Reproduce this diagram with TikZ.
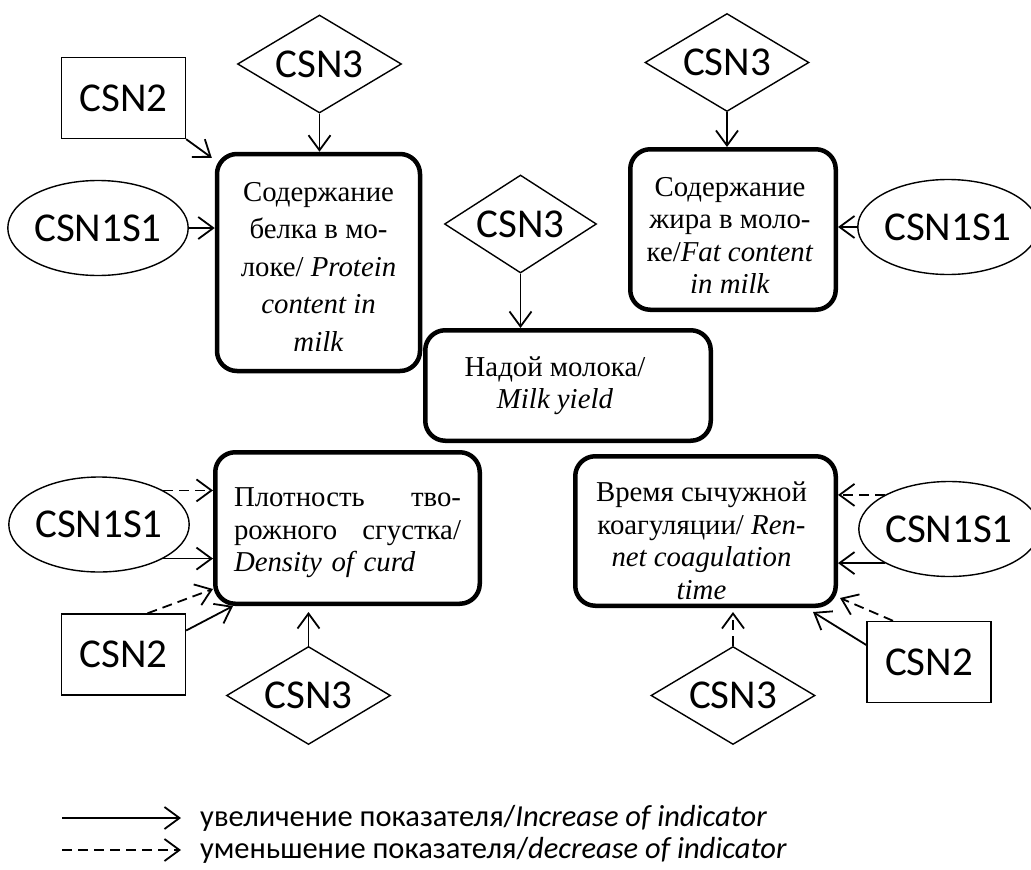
\documentclass[tikz,border=0pt]{standalone}
\usepackage{fontspec}
\setmainfont{Liberation Serif}
\newfontfamily\calibri{Carlito}
\usetikzlibrary{arrows.meta,shapes.geometric,calc}

\tikzset{
  gene/.style={draw, line width=1.4pt, inner sep=0pt, font=\calibri\fontsize{41}{48}\selectfont},
  csnrect/.style={gene, rectangle, minimum width=124pt, minimum height=81pt},
  csndia/.style={gene, diamond, aspect=1.67, minimum width=164pt, minimum height=98pt},
  csnell/.style={gene, ellipse, minimum width=171pt, minimum height=95pt},
  trait/.style={draw, line width=4.5pt, rounded corners=20pt, inner sep=0pt},
  traittext/.style={inner sep=0pt, align=center, font=\fontsize{28.8}{32.5}\selectfont},
  incr/.style={line width=1.8pt, -{Straight Barb[length=15pt,width=22pt,line width=1.8pt]}},
  decr/.style={incr, dash pattern=on 10pt off 6pt},
  legtext/.style={anchor=west, inner sep=0pt, font=\calibri\fontsize{30.5}{33}\selectfont}
}

\begin{document}
\begin{tikzpicture}[x=1pt, y=-1pt]
	%%%%% START %%%%%
	\useasboundingbox (0,0) rectangle (1031,870);
	
	% milk traits
	\node[trait, minimum width=203pt, minimum height=217pt] (prot) at (318.5,262.5) {};
	\node[traittext, font=\fontsize{28.8}{37.5}\selectfont] (protlabel) at ([yshift=-4pt]prot.center)
		{Содержание\\ белка в мо-\\ локе/ \textit{Protein}\\ \textit{content in}\\ \textit{milk}};
	\node[trait, minimum width=285.5pt, minimum height=110.5pt] (milk) at (568,385.5) {};
	\node[traittext] (milklabel) at ([xshift=-13pt]milk.center)
		{Надой молока/\\ \textit{Milk yield}};
	\node[trait, minimum width=205.5pt, minimum height=160.5pt] (fat) at (733,229.5) {};
	\node[traittext] (fatlabel) at ([shift={(-3pt,-6pt)}]fat.center)
		{Содержание\\ жира в моло-\\ ке/\textit{Fat content}\\ \textit{in milk}};
	\node[trait, minimum width=264.5pt, minimum height=151.5pt] (curd) at (347.5,528) {};
	\node[traittext, text width=227pt, align=left] (curdlabel) at ([yshift=-5pt]curd.center)
		{Плотность \hfill тво-\\ рожного \hfill сгустка/\\ \textit{Density of curd}};
	\node[trait, minimum width=260.5pt, minimum height=149.5pt] (rennet) at (705.5,531) {};
	\node[traittext] (rennetlabel) at ([shift={(-4pt,-10pt)}]rennet.center)
		{Время сычужной\\ коагуляции/ \textit{Ren-}\\ \textit{net coagulation}\\ \textit{time}};
	
	% genes
	\node[csnrect] (csn2a) at (123.5,98) {CSN2};
	\node[csndia] (csn3a) at (319.5,64) {CSN3};
	\node[csnell] (csn1a) at (98,228) {CSN1S1};
	\node[csndia, minimum width=152pt] (csn3m) at (520.5,224) {CSN3};
	\node[csndia] (csn3b) at (727,62.5) {CSN3};
	\node[csnell, minimum width=163pt] (csn1b) at (948,227) {CSN1S1};
	\node[csnell] (csn1c) at (99,524.5) {CSN1S1};
	\node[csnrect] (csn2b) at (123.5,654.5) {CSN2};
	\node[csndia] (csn3c) at (308.5,695.5) {CSN3};
	\node[csnell, minimum width=163pt] (csn1d) at (949,529) {CSN1S1};
	\node[csnrect] (csn2c) at (929,662) {CSN2};
	\node[csndia] (csn3d) at (733,695.5) {CSN3};
	
	% effects
	\draw[incr] (csn3a.south) -- (csn3a.south |- prot.north);
	\draw[incr] (csn2a.south east) -- ([shift={(-3pt,-6pt)}]prot.north west);
	\draw[incr] (csn1a.east) -- (csn1a.east -| prot.west);
	\draw[incr] (csn3m.south) -- (csn3m.south |- milk.north);
	\draw[incr] (csn3b.south) -- (csn3b.south |- fat.north);
	\draw[incr] (csn1b.west) -- (csn1b.west -| fat.east);
	
	\draw[decr] (csn1c.north east) -- (csn1c.north east -| curd.west);
	\draw[incr] (csn1c.south east) -- (csn1c.south east -| curd.west);
	\draw[decr] ([xshift=24pt]csn2b.north) -- ([yshift=17pt]curd.south west);
	\draw[incr] ([yshift=24pt]csn2b.east) -- ([xshift=20pt]curd.south west);
	\draw[incr, shorten >=6pt] (csn3c.north) -- (csn3c.north |- curd.south);
	
	\draw[decr] (csn1d.north west) -- (csn1d.north west -| rennet.east);
	\draw[incr] (csn1d.south west) -- (csn1d.south west -| rennet.east);
	\draw[decr] ([xshift=-36pt]csn2c.north) -- ([shift={(2pt,10pt)}]rennet.south east);
	\draw[incr] ([yshift=17pt]csn2c.west) -- ([shift={(-25pt,-4pt)}]rennet.south east);
	\draw[decr, shorten >=4pt] (csn3d.north) -- (csn3d.north |- rennet.south);
	
	% legend
	\node[legtext] (inctext) at (200,818) {увеличение показателя/\textit{Increase of indicator}};
	\node[legtext] (dectext) at (200,850) {уменьшение показателя/\textit{decrease of indicator}};
	\coordinate (incstart) at (62,818);
	\coordinate (decstart) at (62,850);
	\draw[incr] (incstart) -- ([xshift=-19pt]inctext.west);
	\draw[decr] (decstart) -- ([xshift=-19pt]dectext.west);
	
	%%%%% END %%%%%
\end{tikzpicture}
\end{document}
